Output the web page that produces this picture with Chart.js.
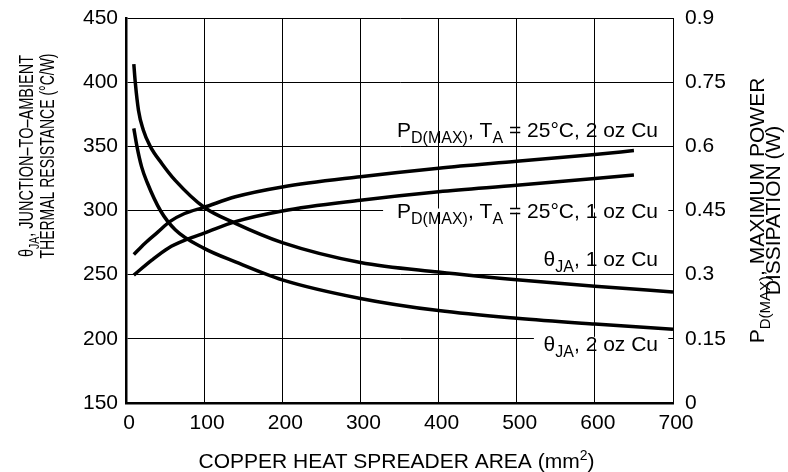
<!DOCTYPE html>
<html>
<head>
<meta charset="utf-8">
<script src="https://cdn.jsdelivr.net/npm/chart.js@4.4.0/dist/chart.umd.min.js"></script>
<style>
html,body{margin:0;padding:0;background:#fff;}
#wrap{width:788px;height:472px;}
canvas{display:block;}
</style>
</head>
<body>
<div id="wrap"><canvas id="c" width="788" height="472"></canvas></div>
<script>
// ---- data ----
const xTickValues = [0, 100, 200, 300, 400, 500, 600, 700];
const leftTickValues = [150, 200, 250, 300, 350, 400, 450];
const rightTickValues = [0, 0.15, 0.3, 0.45, 0.6, 0.75, 0.9];
const rightTickLabels = ['0', '0.15', '0.3', '0.45', '0.6', '0.75', '0.9'];

// θJA, 1 oz Cu (°C/W)
const areaTheta1oz = [10, 12, 16, 22, 31, 46, 63, 100, 140, 200, 300, 400, 500, 600, 700];
const thetaJA1oz   = [414, 399, 378, 363, 350, 336.5, 323.5, 302.5, 290, 275, 259.5, 252, 246, 241, 236.5];

// θJA, 2 oz Cu (°C/W)
const areaTheta2oz = [10, 14, 20, 27, 44, 63, 100, 140, 200, 300, 400, 500, 600, 700];
const thetaJA2oz   = [364, 350, 334, 322, 300, 285, 270.5, 260, 246, 231.5, 222, 216, 211.5, 207.5];

// PD(MAX), TA = 25°C, 2 oz Cu (W)
const areaPd2oz = [10, 24, 41, 56, 75, 100, 140, 200, 300, 400, 500, 600, 650];
const pdMax2oz  = [0.347, 0.373, 0.400, 0.424, 0.443, 0.4575, 0.482, 0.505, 0.529, 0.549, 0.565, 0.581, 0.590];

// PD(MAX), TA = 25°C, 1 oz Cu (W)
const areaPd1oz = [10, 33, 54, 78, 100, 140, 200, 300, 400, 500, 600, 650];
const pdMax1oz  = [0.299, 0.334, 0.362, 0.3825, 0.397, 0.424, 0.449, 0.474, 0.494, 0.509, 0.525, 0.533];

// ---- helpers ----
const FAM = '"Liberation Sans", Arial, Helvetica, sans-serif';
const zip = (xs, ys) => xs.map((x, i) => ({x: x, y: ys[i]}));

function richWidth(ctx, parts, size, small) {
  let w = 0;
  parts.forEach(p => {
    ctx.font = ((p.sub || p.sup) ? small : size) + 'px ' + FAM;
    w += ctx.measureText(p.t).width;
  });
  return w;
}
function drawRich(ctx, parts, x, y, size, small, subDy, supDy) {
  let cx = x;
  parts.forEach(p => {
    ctx.font = ((p.sub || p.sup) ? small : size) + 'px ' + FAM;
    const dy = p.sub ? subDy : (p.sup ? -supDy : 0);
    ctx.fillText(p.t, cx, y + dy);
    cx += ctx.measureText(p.t).width;
  });
  return cx;
}

const lblPd2 = [{t:'P'},{t:'D(MAX)',sub:true},{t:', T'},{t:'A',sub:true},{t:' = 25°C, 2 oz Cu'}];
const lblPd1 = [{t:'P'},{t:'D(MAX)',sub:true},{t:', T'},{t:'A',sub:true},{t:' = 25°C, 1 oz Cu'}];
const lblTh1 = [{t:'θ'},{t:'JA',sub:true},{t:', 1 oz Cu'}];
const lblTh2 = [{t:'θ'},{t:'JA',sub:true},{t:', 2 oz Cu'}];
const yTitle1 = [{t:'θ'},{t:'JA',sub:true},{t:', JUNCTION–TO–AMBIENT'}];
const yTitle2 = [{t:'THERMAL RESISTANCE (°C/W)'}];
const y1Title1 = [{t:'P'},{t:'D(MAX)',sub:true},{t:', MAXIMUM POWER'}];
const y1Title2 = [{t:'DISSIPATION (W)'}];
const xTitle = [{t:'COPPER HEAT SPREADER AREA (mm'},{t:'2',sup:true},{t:')'}];

const overlay = {
  id: 'overlay',
  afterDraw(chart) {
    const ctx = chart.ctx;
    const ca = chart.chartArea;
    const sx = chart.scales.x, sy = chart.scales.y;
    ctx.save();
    // white gaps in the horizontal gridlines behind two labels
    ctx.fillStyle = '#fff';
    const g300 = sy.getPixelForValue(300), g200 = sy.getPixelForValue(200);
    ctx.fillRect(sx.getPixelForValue(329), g300 - 2, sx.getPixelForValue(694) - sx.getPixelForValue(329), 4);
    ctx.fillRect(sx.getPixelForValue(522), g200 - 2, sx.getPixelForValue(694) - sx.getPixelForValue(522), 4);

    ctx.fillStyle = '#000';
    ctx.textBaseline = 'alphabetic';
    ctx.textAlign = 'left';
    const R = ca.right - 15;
    [[lblPd2, 136.7], [lblPd1, 218.3], [lblTh1, 265.7], [lblTh2, 350.7]].forEach(([parts, by]) => {
      const w = richWidth(ctx, parts, 21, 16);
      drawRich(ctx, parts, R - w, by, 21, 16, 6, 0);
    });

    // x-axis title
    const wx = richWidth(ctx, xTitle, 21, 14);
    drawRich(ctx, xTitle, (ca.left + ca.right) / 2 - 3 - wx / 2, 468, 21, 14, 0, 8);

    // left title (condensed, rotated)
    const leftCenter = 156;
    [[yTitle1, 33.3, 202], [yTitle2, 54.3, 205]].forEach(([parts, bx, target]) => {
      const w = richWidth(ctx, parts, 21, 15);
      ctx.save();
      ctx.translate(bx, leftCenter);
      ctx.rotate(-Math.PI / 2);
      ctx.scale(target / w, 1);
      drawRich(ctx, parts, -w / 2, 0, 21, 15, 6, 0);
      ctx.restore();
    });

    // right title (rotated)
    const rightCenter = (ca.top + ca.bottom) / 2;
    [[y1Title1, 764, 21], [y1Title2, 780, 21]].forEach(([parts, bx, fs]) => {
      const w = richWidth(ctx, parts, fs, 15);
      ctx.save();
      ctx.translate(bx, rightCenter);
      ctx.rotate(-Math.PI / 2);
      drawRich(ctx, parts, -w / 2, 0, fs, 15, 6, 0);
      ctx.restore();
    });
    ctx.restore();
  }
};

const lineStyle = {
  borderColor: '#000',
  backgroundColor: '#000',
  borderWidth: 3.5,
  pointRadius: 0,
  fill: false,
  tension: 0.4,
  cubicInterpolationMode: 'monotone'
};

new Chart(document.getElementById('c'), {
  type: 'line',
  data: {
    datasets: [
      Object.assign({label: 'θJA, 1 oz Cu', data: zip(areaTheta1oz, thetaJA1oz), yAxisID: 'y'}, lineStyle),
      Object.assign({label: 'θJA, 2 oz Cu', data: zip(areaTheta2oz, thetaJA2oz), yAxisID: 'y'}, lineStyle),
      Object.assign({label: 'PD(MAX), 2 oz Cu', data: zip(areaPd2oz, pdMax2oz), yAxisID: 'y1'}, lineStyle),
      Object.assign({label: 'PD(MAX), 1 oz Cu', data: zip(areaPd1oz, pdMax1oz), yAxisID: 'y1'}, lineStyle)
    ]
  },
  options: {
    responsive: false,
    animation: false,
    devicePixelRatio: 1,
    layout: {padding: {top: 18, left: 0, right: 0, bottom: 0}},
    plugins: {legend: {display: false}, tooltip: {enabled: false}, title: {display: false}},
    scales: {
      x: {
        type: 'linear', min: 0, max: 700,
        afterBuildTicks: s => { s.ticks = xTickValues.map(v => ({value: v})); },
        afterFit: s => { s.height = 69; },
        ticks: {color: '#000', font: {family: FAM, size: 21}, padding: 8, labelOffset: 3, maxRotation: 0,
                callback: v => String(v)},
        grid: {color: '#000', lineWidth: 1, drawTicks: false},
        border: {display: true, color: '#000', width: 2.5}
      },
      y: {
        type: 'linear', position: 'left', min: 150, max: 450,
        afterBuildTicks: s => { s.ticks = leftTickValues.map(v => ({value: v})); },
        afterFit: s => { s.width = 126; },
        ticks: {color: '#000', font: {family: FAM, size: 21, lineHeight: 0.5}, padding: 8, callback: v => String(v)},
        grid: {color: '#000', lineWidth: 1, drawTicks: false},
        border: {display: true, color: '#000', width: 2.5}
      },
      y1: {
        type: 'linear', position: 'right', min: 0, max: 0.9,
        afterBuildTicks: s => { s.ticks = rightTickValues.map(v => ({value: v})); },
        afterFit: s => { s.width = 115; },
        ticks: {color: '#000', font: {family: FAM, size: 21, lineHeight: 0.5}, padding: 12,
                callback: (v, i) => rightTickLabels[i]},
        grid: {display: false, drawTicks: false},
        border: {display: true, color: '#000', width: 1}
      }
    }
  },
  plugins: [overlay]
});
</script>
</body>
</html>
